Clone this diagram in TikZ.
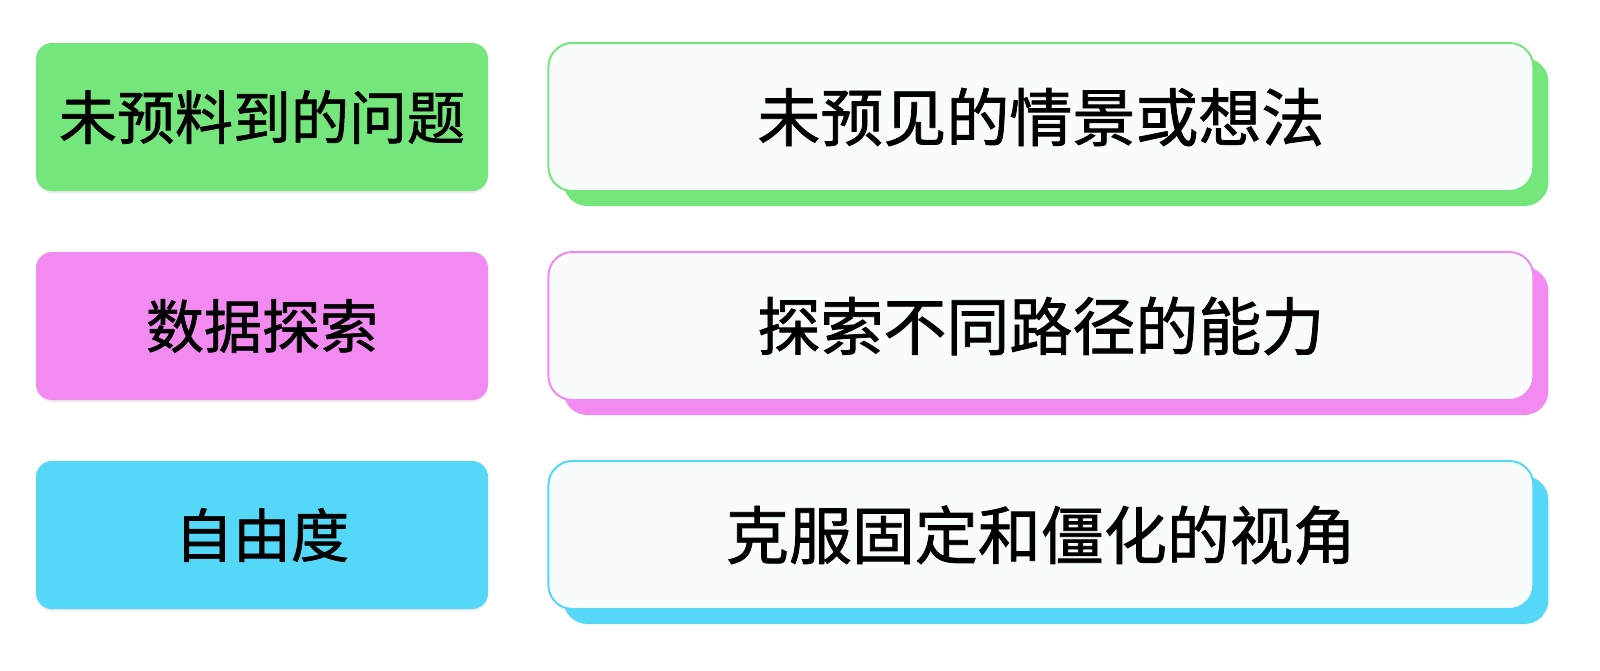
\documentclass[tikz,border=0pt]{standalone}
\usepackage{fontspec}
\setmainfont{Noto Sans CJK SC}[FakeBold=1.2]
\usetikzlibrary{positioning,shadows}
\definecolor{lvse}{HTML}{74E67B}
\definecolor{fenhong}{HTML}{F28AF2}
\definecolor{tianlan}{HTML}{55D7F7}
\definecolor{qianbai}{HTML}{F8FCFD}
\begin{document}
\begin{tikzpicture}[
        x=0.5pt, y=0.5pt, % 1 единица = 1 пиксель
        term/.style={rounded corners=8pt, minimum width=226pt, minimum height=74pt, inner sep=0pt,
                fill=#1, font=\fontsize{29}{33}\selectfont,
                drop shadow={shadow xshift=0pt, shadow yshift=-1pt, fill=black, opacity=0.08}}, % Левые блоки
        expl/.style={rounded corners=12pt, minimum width=492.5pt, minimum height=74pt, inner sep=0pt,
                draw=#1, line width=1pt, fill=qianbai, font=\fontsize{31.5}{36}\selectfont,
                drop shadow={shadow xshift=7.5pt, shadow yshift=-7.5pt, fill=#1, opacity=1}}, % Правые блоки
    ]
    \useasboundingbox (0,0) rectangle (1600,-670);

    \node[term=lvse] (w1) at (262,-117) {未预料到的问题};
    \node[expl=lvse, right=29.5pt of w1] (e1) {未预见的情景或想法};

    \node[term=fenhong] (w2) at (262,-326) {数据探索};
    \node[expl=fenhong, right=29.5pt of w2] (e2) {探索不同路径的能力};

    \node[term=tianlan] (w3) at (262,-535) {自由度};
    \node[expl=tianlan, right=29.5pt of w3] (e3) {克服固定和僵化的视角};
\end{tikzpicture}
\end{document}
